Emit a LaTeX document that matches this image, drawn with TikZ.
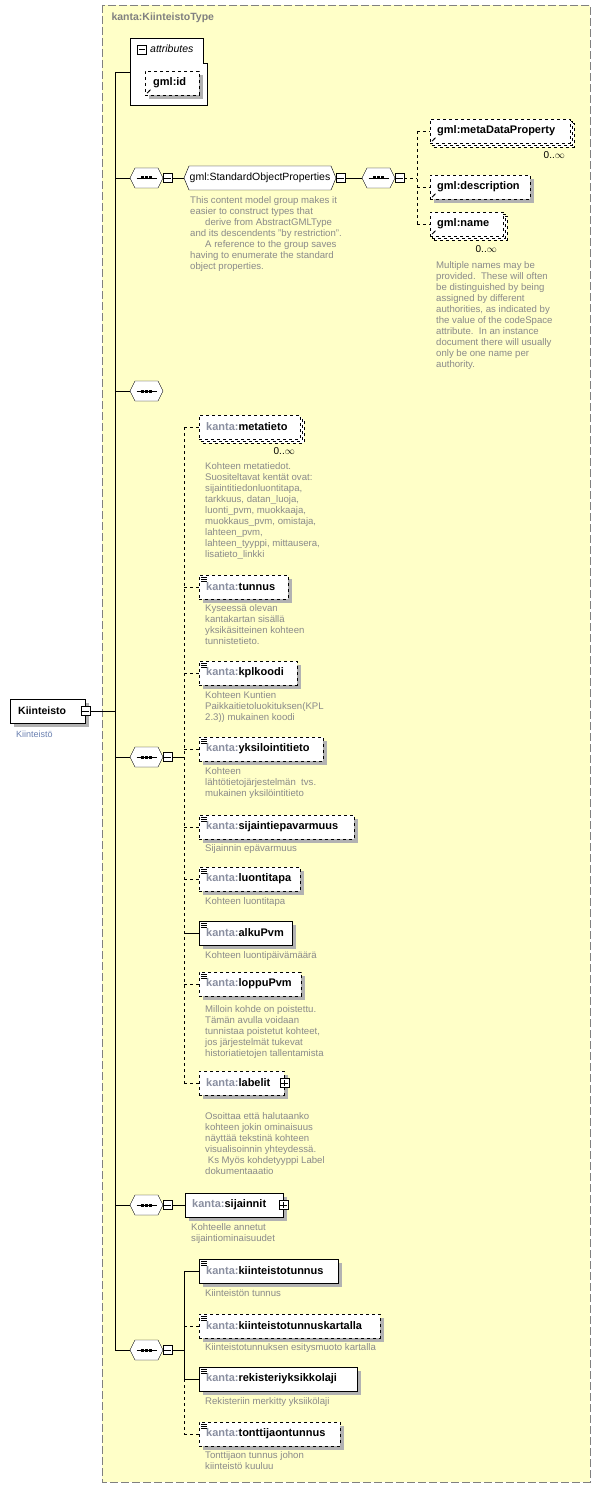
\documentclass[tikz,border=0pt]{standalone}
\usepackage{fontspec}
\setmainfont{Liberation Sans}
\usetikzlibrary{shadows,arrows.meta,calc}
\definecolor{typebg}{HTML}{FFFFC8}
\definecolor{docgray}{HTML}{8A8A8A}
\definecolor{nsgray}{HTML}{8A8FA0}
\definecolor{lblblue}{HTML}{6A80B0}
\tikzset{
    elem/.style={draw=black,fill=white,anchor=west,minimum height=24pt,inner xsep=7pt,
        text width=#1-14pt,align=left,font=\fontsize{11}{12}\selectfont\bfseries,
        drop shadow={shadow xshift=4pt,shadow yshift=-4pt,fill=black!30,opacity=1}},
    elem/.default=80pt,
    optelem/.style={elem=#1,dashed},
    optelem/.default=80pt,
    multi/.style={double copy shadow={shadow xshift=2pt,shadow yshift=-2pt}},
    pm/.style={draw=black,fill=white,minimum size=9pt,inner sep=0},
    doc/.style={anchor=north west,align=left,text=docgray,inner sep=0,
        font=\fontsize{9.6}{11}\selectfont},
    card/.style={anchor=north east,inner sep=0,font=\fontsize{10}{11}\selectfont},
    con/.style={draw=black},
    optcon/.style={draw=black,dashed}
}
\newcommand{\kn}[1]{{\color{nsgray}kanta:}#1}
% octagon: name, west point, width, height
\newcommand{\octpath}[3]{(#1) -- ++(5,-#3/2) -- ++(#2-10,0) -- ++(5,#3/2) -- ++(-5,#3/2) -- ++(-#2+10,0) -- cycle}
\newcommand{\octo}[4]{\coordinate (#1) at (#2);
    \fill[black!30,shift={(4,4)}] \octpath{#1}{#3}{#4};
    \draw[fill=white] \octpath{#1}{#3}{#4};
    \coordinate (#1-e) at ($(#1)+(#3,0)$);
    \coordinate (#1-c) at ($(#1)+(#3/2,0)$);}
\newcommand{\seqmark}[1]{\draw (#1-c)+(-10,0) -- +(10,0);
    \foreach \dx in {-4,0,4} \fill (#1-c)+(\dx-1.5,-1.5) rectangle +(\dx+1.5,1.5);}
\newcommand{\seqnode}[2]{\octo{#1}{#2}{33}{20}\seqmark{#1}}
\newcommand{\minus}[2]{\node[pm] (#1) at (#2) {}; \draw (#1.west)+(1.5,0) -- ([xshift=-1.5pt]#1.east);}
\newcommand{\plus}[2]{\minus{#1}{#2} \draw (#1.north)+(0,1.5) -- ([yshift=1.5pt]#1.south);}
\newcommand{\docmark}[1]{\foreach \dy in {2,4,6} \draw[line width=0.6pt] (#1.north west)+(2,\dy) -- +(8,\dy);}
\newcommand{\refmark}[1]{\draw[line width=0.8pt,-{Latex[length=2.5pt]}] (#1.south west)+(2,-2) -- +(6,-6);}
\begin{document}
\begin{tikzpicture}[x=1pt,y=-1pt]
    \useasboundingbox (0,0) rectangle (601,1490);
    \draw[fill=typebg,draw=black!50,dash pattern=on 8pt off 3pt] (102,5) rectangle (590,1482);
    \node[anchor=west,text=black!50,font=\fontsize{10.5}{12}\selectfont\bfseries] (title) at (108,18) {kanta:KiinteistoType};

    % root element
    \node[elem=73pt,inner xsep=8pt,font=\fontsize{10.5}{12}\selectfont\bfseries] (root) at (10,711) {Kiinteisto};
    \minus{rootpm}{root.east}
    \node[anchor=north west,text=lblblue,inner sep=0,font=\fontsize{9}{10}\selectfont] (rootlbl) at (16,731) {Kiinteistö};
    \coordinate (trunk) at (115,711);
    \draw[con] (rootpm.east) -- (trunk);
    \draw[con] (115,72) -- (115,1350);

    % attributes
    \draw[fill=white] (130,38) -- (203,38) -- (203,63) -- (207,63) -- (207,105) -- (130,105) -- cycle;
    \minus{attpm}{142,49.5}
    \node[anchor=west,inner sep=0,font=\fontsize{10.5}{12}\selectfont\itshape] (attr) at (150,49) {attributes};
    \node[optelem=52pt,inner xsep=8pt] (gmlid) at (145,83) {gml:id};
    \refmark{gmlid}
    \draw[con] (115,72) -- (130,72);

    % standard object properties
    \seqnode{seqa}{130,178}
    \minus{seqapm}{167.5,178}
    \octo{sop}{184,178}{152}{24}
    \node[font=\fontsize{10.5}{12}\selectfont] at (sop-c) {gml:StandardObjectProperties};
    \minus{soppm}{340.5,178}
    \seqnode{seqb}{362,178}
    \minus{seqbpm}{399.5,178}
    \draw[con] (115,178) -- (seqa) (seqapm.east) -- (sop) (soppm.east) -- (seqb);
    \node[optelem=140pt,multi] (mdp) at (430,131) {gml:metaDataProperty};
    \refmark{mdp}
    \node[card] at (565,151) {0..\(\infty\)};
    \node[optelem=100pt] (descr) at (430,187) {gml:description};
    \refmark{descr}
    \node[optelem=73pt,multi] (gname) at (430,224) {gml:name};
    \refmark{gname}
    \node[card] at (497,245) {0..\(\infty\)};
    \draw[optcon] (seqbpm.east) -- (417,178) (417,131) -- (417,224)
        (417,131) -- (mdp.west) (417,187) -- (descr.west) (417,224) -- (gname.west);
    \node[doc] (sopdoc) at (190,196) {This content model group makes it\\easier to construct types that\\\hspace{15pt}derive from AbstractGMLType\\and its descendents "by restriction".\\\hspace{15pt}A reference to the group saves\\having to enumerate the standard\\object properties.};
    \node[doc] (namedoc) at (436,261) {Multiple names may be\\provided.\ \ These will often\\be distinguished by being\\assigned by different\\authorities, as indicated by\\the value of the codeSpace\\attribute.\ \ In an instance\\document there will usually\\only be one name per\\authority.};

    % empty sequence
    \seqnode{seqc}{130,391}
    \draw[con] (115,391) -- (seqc);

    % kanta elements
    \seqnode{seqd}{130,757}
    \minus{seqdpm}{167.5,757}
    \draw[con] (115,757) -- (seqd) (seqdpm.east) -- (184,757);
    \draw[optcon] (184,427) -- (184,1083);
    \node[optelem=101pt,multi] (metatieto) at (199,427) {\kn{metatieto}};
    \node[card] at (295,447) {0..\(\infty\)};
    \node[optelem=89pt] (tunnus) at (199,587) {\kn{tunnus}}; \docmark{tunnus}
    \node[optelem=98pt] (kplkoodi) at (199,673) {\kn{kplkoodi}}; \docmark{kplkoodi}
    \node[optelem=124pt] (yksilointitieto) at (199,749) {\kn{yksilointitieto}}; \docmark{yksilointitieto}
    \node[optelem=155pt] (sijaintiepavarmuus) at (199,827) {\kn{sijaintiepavarmuus}}; \docmark{sijaintiepavarmuus}
    \node[optelem=101pt] (luontitapa) at (199,879) {\kn{luontitapa}}; \docmark{luontitapa}
    \node[elem=93pt] (alkupvm) at (199,933) {\kn{alkuPvm}}; \docmark{alkupvm}
    \node[optelem=102pt] (loppupvm) at (199,984) {\kn{loppuPvm}}; \docmark{loppupvm}
    \node[optelem=85pt] (labelit) at (199,1083) {\kn{labelit}};
    \plus{labelitpm}{labelit.east}
    \foreach \n/\y in {metatieto/427,tunnus/587,kplkoodi/673,yksilointitieto/749,sijaintiepavarmuus/827,luontitapa/879,loppupvm/984,labelit/1083}
        \draw[optcon] (184,\y) -- (\n.west);
    \draw[con] (184,933) -- (alkupvm.west);
    \node[doc] at (205,462) {Kohteen metatiedot.\\Suositeltavat kentät ovat:\\sijaintitiedonluontitapa,\\tarkkuus, datan\_luoja,\\luonti\_pvm, muokkaaja,\\muokkaus\_pvm, omistaja,\\lahteen\_pvm,\\lahteen\_tyyppi, mittausera,\\lisatieto\_linkki};
    \node[doc] at (205,604) {Kyseessä olevan\\kantakartan sisällä\\yksikäsitteinen kohteen\\tunnistetieto.};
    \node[doc] at (205,691) {Kohteen Kuntien\\Paikkaitietoluokituksen(KPL\\2.3)) mukainen koodi};
    \node[doc] at (205,767) {Kohteen\\lähtötietojärjestelmän\ \ tvs.\\mukainen yksilöintitieto};
    \node[doc] at (205,844) {Sijainnin epävarmuus};
    \node[doc] at (205,897) {Kohteen luontitapa};
    \node[doc] at (205,951) {Kohteen luontipäivämäärä};
    \node[doc] at (205,1005) {Milloin kohde on poistettu.\\Tämän avulla voidaan\\tunnistaa poistetut kohteet,\\jos järjestelmät tukevat\\historiatietojen tallentamista};
    \node[doc] at (205,1112) {Osoittaa että halutaanko\\kohteen jokin ominaisuus\\näyttää tekstinä kohteen\\visualisoinnin yhteydessä.\\\ Ks Myös kohdetyyppi Label\\dokumentaaatio};

    % sijainnit
    \seqnode{seqe}{130,1205}
    \minus{seqepm}{167.5,1205}
    \node[elem=98pt] (sijainnit) at (185,1205) {\kn{sijainnit}};
    \plus{sijainnitpm}{sijainnit.east}
    \draw[con] (115,1205) -- (seqe) (seqepm.east) -- (sijainnit.west);
    \node[doc] at (191,1223) {Kohteelle annetut\\sijaintiominaisuudet};

    % kiinteistotunnus group
    \seqnode{seqf}{130,1350}
    \minus{seqfpm}{167.5,1350}
    \draw[con] (115,1350) -- (seqf) (seqfpm.east) -- (184,1350);
    \node[elem=139pt] (ktunnus) at (199,1271) {\kn{kiinteistotunnus}}; \docmark{ktunnus}
    \node[optelem=181pt] (kartalla) at (199,1326) {\kn{kiinteistotunnuskartalla}}; \docmark{kartalla}
    \node[elem=158pt] (rekisteri) at (199,1379) {\kn{rekisteriyksikkolaji}}; \docmark{rekisteri}
    \node[optelem=141pt] (tonttijao) at (199,1434) {\kn{tonttijaontunnus}}; \docmark{tonttijao}
    \draw[con] (184,1271) -- (184,1379) (184,1271) -- (ktunnus.west) (184,1379) -- (rekisteri.west);
    \draw[optcon] (184,1379) -- (184,1434) (184,1326) -- (kartalla.west) (184,1434) -- (tonttijao.west);
    \node[doc] at (205,1289) {Kiinteistön tunnus};
    \node[doc] at (205,1343) {Kiinteistotunnuksen esitysmuoto kartalla};
    \node[doc] at (205,1397) {Rekisteriin merkitty yksiikölaji};
    \node[doc] at (205,1451) {Tonttijaon tunnus johon\\kiinteistö kuuluu};
\end{tikzpicture}
\end{document}
